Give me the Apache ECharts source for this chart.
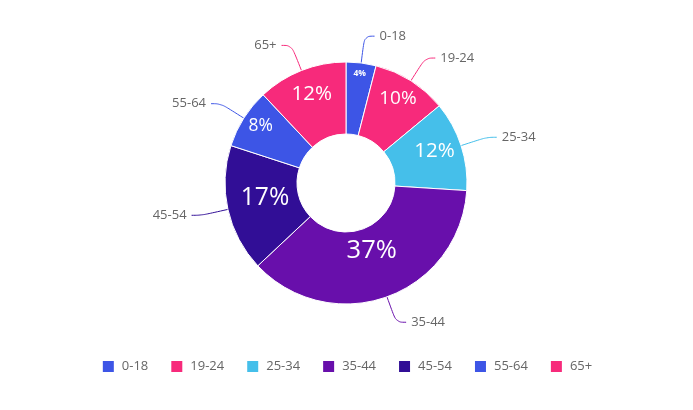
<!DOCTYPE html>
<html>
<head>
<meta charset="utf-8">
<script src="https://cdn.jsdelivr.net/npm/echarts@6/dist/echarts.min.js"></script>
<style>
html,body{margin:0;padding:0;background:#fff;}
#main{width:693px;height:410px;}
</style>
</head>
<body>
<div id="main"></div>
<script>
var categories = ['0-18', '19-24', '25-34', '35-44', '45-54', '55-64', '65+'];
var values = [4, 10, 12, 37, 17, 8, 12];
var colors = ['#3d55e6', '#f72a7b', '#45bfea', '#680fab', '#310e96', '#3d55e6', '#f72a7b'];

var CX = 346, CY = 183, R0 = 49, R1 = 121;

function innerSize(v) {
  if (v < 5) return 8.5;
  return Math.min(25.5, 11 + v * 0.8);
}
function labelRadius(v) {
  return Math.max(76, 117 - 2 * v);
}

var total = values.reduce(function (a, b) { return a + b; }, 0);
var midAngles = [];
(function () {
  var acc = 0;
  values.forEach(function (v) {
    midAngles.push((acc + v / 2) / total * 2 * Math.PI);
    acc += v;
  });
})();

var innerData = categories.map(function (c, i) {
  return {
    name: c,
    value: values[i],
    itemStyle: { color: colors[i] },
    label: { fontSize: innerSize(values[i]), fontWeight: values[i] < 5 ? 'bold' : 'normal' }
  };
});
var outerData = categories.map(function (c, i) {
  return {
    name: c,
    value: values[i],
    itemStyle: { color: 'rgba(0,0,0,0)' },
    labelLine: { lineStyle: { color: colors[i] } }
  };
});

var chart = echarts.init(document.getElementById('main'), null, { renderer: 'canvas' });
chart.setOption({
  animation: false,
  textStyle: { fontFamily: 'Open Sans' },
  legend: {
    bottom: 31,
    left: 'center',
    itemWidth: 13,
    itemHeight: 13,
    itemGap: 21,
    icon: 'rect',
    data: categories,
    textStyle: { fontSize: 13, color: '#666', fontFamily: 'Open Sans', padding: [0, 0, 0, 2] }
  },
  series: [
    {
      type: 'pie',
      center: [CX, CY],
      radius: [R0, R1],
      startAngle: 90,
      clockwise: true,
      silent: true,
      itemStyle: { borderColor: '#fff', borderWidth: 1 },
      label: {
        position: 'inside',
        color: '#fff',
        fontFamily: 'Open Sans',
        formatter: function (p) { return Math.round(p.percent) + '%'; }
      },
      labelLayout: function (p) {
        var i = p.dataIndex;
        var r = labelRadius(values[i]);
        return {
          x: CX + r * Math.sin(midAngles[i]),
          y: CY - r * Math.cos(midAngles[i]) - 0.14 * innerSize(values[i]),
          align: 'center',
          verticalAlign: 'middle'
        };
      },
      labelLine: { show: false },
      data: innerData
    },
    {
      type: 'pie',
      center: [CX, CY],
      radius: [R0, R1],
      startAngle: 90,
      clockwise: true,
      silent: true,
      z: 1,
      label: {
        position: 'outside',
        color: '#666',
        fontSize: 13,
        fontFamily: 'Open Sans',
        formatter: '{b}'
      },
      labelLine: { show: true, length: 27, length2: 10, smooth: 0.4, lineStyle: { width: 1 } },
      data: outerData
    }
  ]
});
</script>
</body>
</html>
